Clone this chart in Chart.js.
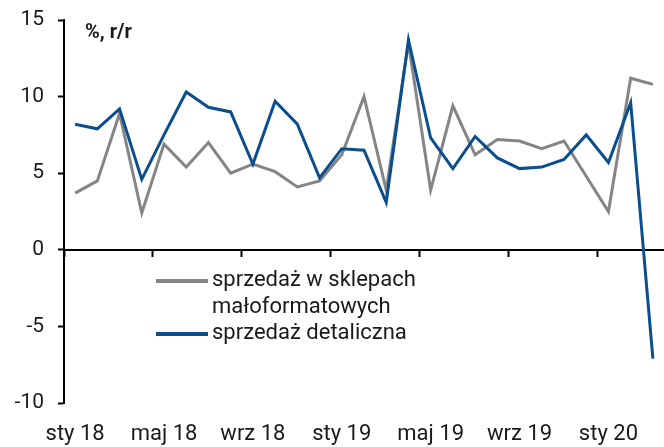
<!DOCTYPE html>
<html>
<head>
<meta charset="utf-8">
<script src="https://cdn.jsdelivr.net/npm/chart.js@4.4.0/dist/chart.umd.min.js"></script>
<style>
  html, body { margin: 0; padding: 0; background: #fff; }
  #wrap { width: 664px; height: 447px; position: relative; }
</style>
</head>
<body>
<div id="wrap"><canvas id="c" width="664" height="447"></canvas></div>
<script>
const categories = [
  'sty 18','lut 18','mar 18','kwi 18','maj 18','cze 18','lip 18','sie 18','wrz 18','paź 18','lis 18','gru 18',
  'sty 19','lut 19','mar 19','kwi 19','maj 19','cze 19','lip 19','sie 19','wrz 19','paź 19','lis 19','gru 19',
  'sty 20','lut 20','mar 20'
];
const smallShops = [3.7, 4.5, 8.9, 2.4, 6.9, 5.4, 7.0, 5.0, 5.6, 5.1, 4.1, 4.5,
                    6.2, 10.0, 3.9, 13.5, 3.9, 9.4, 6.2, 7.2, 7.1, 6.6, 7.1, 4.8,
                    2.5, 11.2, 10.8];
const retail = [8.2, 7.9, 9.2, 4.6, 7.5, 10.3, 9.3, 9.0, 5.6, 9.7, 8.2, 4.7,
                6.6, 6.5, 3.1, 13.7, 7.3, 5.3, 7.4, 6.0, 5.3, 5.4, 5.9, 7.5,
                5.7, 9.6, -7.1];
const yTicks = [-10, -5, 0, 5, 10, 15];
const seriesNames = ['sprzedaż w sklepach', 'małoformatowych', 'sprzedaż detaliczna'];
const unitLabel = '%, r/r';

const FONT = "Roboto, 'Liberation Sans', sans-serif";
const BLUE = '#0a4e8e';
const GREY = '#858585';
const TEXT = '#1a1a1a';

const overlay = {
  id: 'overlay',
  afterDraw(chart) {
    const ctx = chart.ctx;
    const a = chart.chartArea;
    const y0 = chart.scales.y.getPixelForValue(15);
    ctx.save();
    ctx.fillStyle = TEXT;
    ctx.textBaseline = 'middle';
    ctx.font = "bold 20px " + FONT;
    ctx.textAlign = 'left';
    ctx.fillText(unitLabel, a.left + 21, y0 + 13);

    ctx.font = "22px " + FONT;
    const lx = a.left + 92, lx2 = a.left + 144, tx = a.left + 148;
    ctx.lineWidth = 4;
    ctx.strokeStyle = GREY;
    ctx.beginPath(); ctx.moveTo(lx, y0 + 261); ctx.lineTo(lx2, y0 + 261); ctx.stroke();
    ctx.fillText(seriesNames[0], tx, y0 + 260);
    ctx.fillText(seriesNames[1], tx, y0 + 287);
    ctx.strokeStyle = BLUE;
    ctx.beginPath(); ctx.moveTo(lx, y0 + 314); ctx.lineTo(lx2, y0 + 314); ctx.stroke();
    ctx.fillText(seriesNames[2], tx, y0 + 313);
    ctx.restore();
  }
};

new Chart(document.getElementById('c'), {
  type: 'line',
  data: {
    labels: categories,
    datasets: [
      { label: 'sprzedaż detaliczna', data: retail, borderColor: BLUE, borderWidth: 3,
        pointRadius: 0, tension: 0, xAxisID: 'x', yAxisID: 'y' },
      { label: 'sprzedaż w sklepach małoformatowych', data: smallShops, borderColor: GREY, borderWidth: 3,
        pointRadius: 0, tension: 0, xAxisID: 'x', yAxisID: 'y' }
    ]
  },
  options: {
    responsive: false,
    animation: false,
    devicePixelRatio: 1,
    layout: { padding: { top: 20, right: 0, left: 0, bottom: 0 } },
    plugins: { legend: { display: false }, tooltip: { enabled: false } },
    scales: {
      x: {
        type: 'category',
        position: 'bottom',
        offset: true,
        grid: { display: false, drawTicks: false },
        border: { display: false },
        ticks: {
          autoSkip: false, maxRotation: 0, minRotation: 0,
          padding: 18,
          color: TEXT,
          font: { family: FONT, size: 22 },
          callback: function(v, i) { return i % 4 === 0 ? this.getLabelForValue(v) : null; }
        },
        afterFit(s) { s.height = 44; s.paddingLeft = 0; s.paddingRight = 0; }
      },
      x2: {
        type: 'category',
        labels: categories,
        position: { y: 0 },
        offset: true,
        grid: {
          display: true, drawOnChartArea: false, drawTicks: true, tickLength: 6, offset: true,
          tickWidth: 2,
          tickColor: (c) => (c.index % 4 === 0 ? '#000' : 'rgba(0,0,0,0)')
        },
        border: { display: true, color: '#000', width: 2 },
        ticks: { display: false, autoSkip: false },
        afterFit(s) { s.height = 0; s.paddingLeft = 0; s.paddingRight = 0; }
      },
      y: {
        min: -10, max: 15,
        afterBuildTicks(s) { s.ticks = yTicks.map(v => ({ value: v })); },
        grid: { drawOnChartArea: false, drawTicks: true, tickLength: 6, tickColor: '#000', tickWidth: 2 },
        border: { display: true, color: '#000', width: 2 },
        ticks: { padding: 14, color: TEXT, font: { family: FONT, size: 21 } },
        afterFit(s) { s.width = 64; s.paddingTop = 0; s.paddingBottom = 0; }
      }
    }
  },
  plugins: [overlay]
});
</script>
</body>
</html>
